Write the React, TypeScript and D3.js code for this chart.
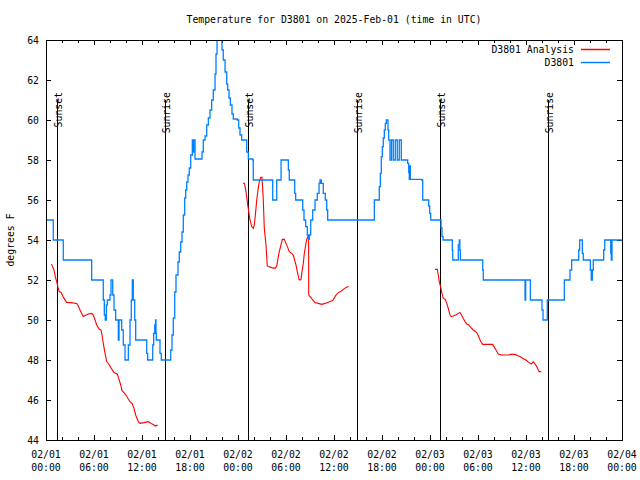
import React from "react";
import * as d3 from "d3";

const W = 640;
const H = 480;
const PLOT = { left: 46, right: 622, top: 40, bottom: 440 };

const titleText = "Temperature for D3801 on 2025-Feb-01 (time in UTC)";
const yAxisLabel = "degrees F";
const yTicks = [44, 46, 48, 50, 52, 54, 56, 58, 60, 62, 64];
const xTickHours = [0, 6, 12, 18, 24, 30, 36, 42, 48, 54, 60, 66, 72];
const xTickDates = ["02/01", "02/01", "02/01", "02/01", "02/02", "02/02", "02/02", "02/02", "02/03", "02/03", "02/03", "02/03", "02/04"];
const xTickTimes = ["00:00", "06:00", "12:00", "18:00", "00:00", "06:00", "12:00", "18:00", "00:00", "06:00", "12:00", "18:00", "00:00"];
const xMinorStep = 2;

const sunHours = [1.44, 14.92, 25.29, 38.91, 49.29, 62.79];
const sunLabels = ["Sunset", "Sunrise", "Sunset", "Sunrise", "Sunset", "Sunrise"];

const seriesNames = ["D3801 Analysis", "D3801"];
const seriesColors = ["#ff0000", "#0080ff"];

// Observations (D3801): step series, value holds until the next time
const obsHours = [
  0, 0.79, 0.91, 1.96, 2.16, 5.41, 5.71, 6.96, 7.16, 7.29, 7.41, 7.54, 7.66, 7.88, 8.0, 8.13, 8.25, 8.34, 8.5, 8.71,
  8.96, 9.04, 9.13, 9.38, 9.46, 9.66, 9.88, 10.16, 10.29, 10.5, 10.66, 10.79, 10.91, 11.09, 11.21, 12.46, 12.59, 12.71, 13.21, 13.34,
  13.46, 13.59, 13.69, 13.75, 13.79, 14.16, 14.25, 14.41, 15.41, 15.59, 15.75, 15.91, 16.09, 16.25, 16.5, 16.66, 16.84, 17.0, 17.16, 17.34,
  17.46, 17.59, 17.75, 17.91, 18.09, 18.29, 18.38, 18.46, 18.63, 19.38, 19.5, 19.66, 19.88, 20.09, 20.29, 20.5, 20.71, 20.91, 21.13, 21.25,
  21.38, 21.63, 21.88, 22.0, 22.16, 22.38, 22.59, 22.71, 22.88, 23.04, 23.25, 23.41, 23.91, 24.09, 24.25, 24.46, 24.88, 25.09, 25.29, 25.84,
  25.91, 28.21, 28.34, 28.75, 28.84, 29.19, 29.38, 30.16, 30.29, 30.41, 30.91, 31.09, 31.21, 31.96, 32.09, 32.25, 32.46, 32.66, 32.79, 32.91,
  33.09, 33.34, 33.63, 33.91, 34.13, 34.25, 34.41, 34.66, 34.91, 35.09, 35.21, 40.91, 41.04, 41.54, 41.66, 41.79, 41.91, 42.04, 42.16, 42.29,
  42.41, 42.54, 42.66, 42.75, 42.84, 43.0, 43.19, 43.41, 43.66, 43.91, 44.16, 44.41,
  45.09, 45.21, 45.34, 45.41, 45.48, 45.54, 46.96, 47.09, 47.71, 47.84, 47.96, 48.09, 49.25, 49.38, 49.5, 49.63, 50.66, 50.79,
  50.84, 51.38, 51.54, 51.66, 51.73, 51.79, 54.46, 54.59, 54.66, 59.79, 59.88, 59.96, 60.41, 60.54, 61.84, 62.0, 62.13, 62.54, 62.66, 64.66,
  64.79, 65.34, 65.5, 65.71, 66.46, 66.59, 66.71, 66.91, 67.04, 67.16, 67.91, 68.04, 68.16, 68.29, 68.41, 69.59, 69.71, 69.84, 70.46, 70.59,
  70.66, 70.75, 72,
];
const obsTemps = [
  55, 55, 54, 54, 53, 53, 52, 52, 51, 50.25, 50, 50.75, 51, 51, 51.25, 52, 52, 51.25, 50.5, 50,
  50, 49, 50, 50, 49.5, 48.75, 48, 48, 48.75, 50, 51, 52, 51, 50, 49, 49, 48.33, 48, 48, 48.75,
  49.33, 49.75, 50, 49.33, 49, 49, 48.33, 48, 48, 48.5, 49.25, 50.1, 51.4, 52.25, 52.9, 53.4, 53.9, 54.4, 55.25, 56.1,
  56.5, 56.9, 57.25, 57.6, 58.25, 59, 58.4, 59, 58.05, 58.05, 58.4, 59, 59.2, 59.75, 60.1, 60.5, 61, 61.5, 62.3, 63.3,
  64.3, 64.5, 64.2, 63.5, 63, 62.4, 61.8, 61.5, 61.1, 60.75, 60.3, 60.05, 60, 59.6, 59.25, 59, 59, 58.4, 58.05, 58,
  57, 57, 56, 56, 57, 57, 58, 58, 57.5, 57, 57, 56.33, 56, 56, 55.5, 55, 54.67, 54.25, 54.03, 54.25,
  55, 55.5, 56, 56.33, 56.83, 57, 56.83, 56.33, 56, 55.5, 55, 55, 56, 56, 56.67, 57.33, 58.17, 58.67, 59.1, 59.5,
  59.83, 60, 60, 59.5, 59, 58, 59, 58, 59, 58, 59, 58,
  58, 57.83, 57.37, 57.03, 57.7, 57.03, 57, 56, 56, 55.7, 55.33, 55, 55, 54.6, 54.17, 54, 54, 53.5,
  53, 53, 53.75, 54, 53.5, 53, 53, 52.5, 52, 52, 51, 52, 52, 51, 51, 50.5, 50, 50, 51, 51,
  52, 52, 52.5, 53, 53, 53.5, 54, 54, 53.33, 53, 53, 52.5, 52, 52.5, 53, 53, 53.5, 54, 54, 53.33,
  53, 54, 54,
];

// Analysis (D3801 Analysis), null marks a gap between runs
const anaHours = [
  0.63, 0.75, 1.0, 1.16, 1.34, 1.5, 1.66, 1.91, 2.09, 2.34, 2.59, 3.09, 3.84, 4.04, 4.25, 4.5, 4.66, 4.91, 5.29, 5.71,
  5.91, 6.13, 6.34, 6.63, 6.88, 7.0, 7.16, 7.38, 7.59, 7.84, 8.09, 8.5, 8.91, 9.09, 9.34, 9.5, 9.75, 10.0, 10.29, 10.5,
  10.75, 11.0, 11.21, 11.54, 11.75, 12.25, 12.79, 13.13, 13.41, 13.63, 13.84, 13.96,
  14.0,
  24.66, 24.81, 25.0, 25.16, 25.34, 25.5, 25.71, 25.91, 26.04, 26.21, 26.34, 26.5, 26.66, 26.84, 27.0, 27.09, 27.16, 27.29, 27.5, 27.66,
  27.79, 28.21, 28.63, 28.84, 29.0, 29.16, 29.34, 29.54, 29.79, 30.0, 30.21, 30.41, 30.71, 30.91, 31.13, 31.25, 31.41, 31.63, 31.75, 31.88,
  32.0, 32.16, 32.29, 32.46, 32.59, 32.75, 32.83, 32.84, 33.0, 33.29, 33.63, 34.04, 34.46, 34.88, 35.21, 35.5, 35.84, 36.0, 36.25, 36.54,
  36.84, 37.16, 37.5, 37.84,
  38.0,
  48.63, 48.91, 49.04, 49.16, 49.34, 49.5, 49.66, 49.91, 50.09, 50.29, 50.5, 50.66, 50.91, 51.21, 51.54, 51.75, 51.91, 52.16, 52.38, 52.59,
  52.84, 53.09, 53.41, 53.84, 54.09, 54.34, 54.59, 55.84, 56.0, 56.25, 56.54, 56.96, 57.79, 58.09, 58.63, 58.91, 59.25, 59.59, 60.0, 60.34,
  60.66, 60.91, 61.13, 61.34, 61.54, 61.66, 61.91,
];
const anaTemps: (number | null)[] = [
  52.78, 52.75, 52.5, 52.17, 51.92, 51.63, 51.42, 51.37, 51.2, 51.03, 50.88, 50.87, 50.83, 50.7, 50.5, 50.3, 50.17, 50.22, 50.3, 50.33,
  50.25, 50.0, 49.75, 49.55, 49.5, 49.25, 48.83, 48.33, 47.92, 47.8, 47.63, 47.37, 47.3, 47.08, 46.75, 46.47, 46.37, 46.25, 46.05, 45.92,
  45.83, 45.58, 45.25, 44.92, 44.83, 44.87, 44.92, 44.83, 44.78, 44.7, 44.73, 44.73,
  null,
  56.83, 56.83, 56.42, 55.92, 55.42, 55.0, 54.67, 54.58, 54.75, 55.42, 56.0, 56.5, 56.92, 57.13, 57.13, 56.5, 56.0, 54.58, 53.75, 52.7,
  52.67, 52.62, 52.58, 52.7, 53.08, 53.42, 53.7, 54.03, 54.03, 53.83, 53.63, 53.42, 53.33, 53.25, 52.92, 52.75, 52.42, 52.03, 52.0, 52.03,
  52.42, 52.83, 53.33, 53.75, 54.03, 54.17, 54.17, 51.25, 51.17, 51.03, 50.87, 50.83, 50.78, 50.83, 50.88, 50.92, 50.97, 51.08, 51.25, 51.37,
  51.42, 51.53, 51.62, 51.67,
  null,
  52.53, 52.53, 52.25, 51.92, 51.63, 51.33, 51.08, 51.03, 50.83, 50.58, 50.25, 50.17, 50.2, 50.25, 50.33, 50.38, 50.28, 50.08, 49.92, 49.8,
  49.75, 49.63, 49.5, 49.37, 49.17, 48.92, 48.78, 48.78, 48.67, 48.5, 48.3, 48.25, 48.25, 48.28, 48.28, 48.23, 48.17, 48.08, 48.0, 47.88,
  47.8, 47.92, 47.8, 47.67, 47.5, 47.42, 47.42,
];

const FONT = "'DejaVu Sans Mono', 'Liberation Mono', monospace";
const FS = 9.8;

type Pt = { h: number; t: number | null };

export default function App() {
  const x = d3.scaleLinear().domain([0, 72]).range([PLOT.left, PLOT.right]);
  const y = d3.scaleLinear().domain([44, 64]).range([PLOT.bottom, PLOT.top]);

  const obsData: Pt[] = obsHours.map((h, i) => ({ h, t: obsTemps[i] }));
  const anaData: Pt[] = anaHours.map((h, i) => ({ h, t: anaTemps[i] }));

  const anaLine = d3
    .line<Pt>()
    .defined((d) => d.t != null)
    .x((d) => x(d.h))
    .y((d) => y(d.t as number));

  const obsLine = d3
    .line<Pt>()
    .curve(d3.curveStepAfter)
    .x((d) => x(d.h))
    .y((d) => y(d.t as number));

  const minorHours = d3.range(0, 72 + 0.001, xMinorStep).filter((h) => h % 6 !== 0);
  const majorLen = 5;
  const minorLen = 3;

  return (
    <svg width={W} height={H} style={{ display: "block", position: "absolute", left: 0, top: 0, background: "#fff" }} fontFamily={FONT} fontSize={FS}>
      <defs>
        <clipPath id="plotclip">
          <rect x={PLOT.left} y={PLOT.top} width={PLOT.right - PLOT.left} height={PLOT.bottom - PLOT.top} />
        </clipPath>
      </defs>
      <rect x={0} y={0} width={W} height={H} fill="#fff" />

      <text x={(PLOT.left + PLOT.right) / 2} y={23} textAnchor="middle">{titleText}</text>
      <text transform={`translate(14,${(PLOT.top + PLOT.bottom) / 2}) rotate(-90)`} textAnchor="middle">{yAxisLabel}</text>

      {yTicks.map((t) => (
        <g key={"y" + t}>
          <line x1={PLOT.left} x2={PLOT.left + majorLen} y1={y(t)} y2={y(t)} stroke="#000" shapeRendering="crispEdges" />
          <line x1={PLOT.right} x2={PLOT.right - majorLen} y1={y(t)} y2={y(t)} stroke="#000" shapeRendering="crispEdges" />
          <text x={PLOT.left - 7} y={y(t) + 3.5} textAnchor="end">{t}</text>
        </g>
      ))}

      {xTickHours.map((h, i) => (
        <g key={"x" + h}>
          <line x1={x(h)} x2={x(h)} y1={PLOT.bottom} y2={PLOT.bottom - majorLen} stroke="#000" shapeRendering="crispEdges" />
          <line x1={x(h)} x2={x(h)} y1={PLOT.top} y2={PLOT.top + majorLen} stroke="#000" shapeRendering="crispEdges" />
          <text x={x(h)} y={458} textAnchor="middle">{xTickDates[i]}</text>
          <text x={x(h)} y={471} textAnchor="middle">{xTickTimes[i]}</text>
        </g>
      ))}
      {minorHours.map((h) => (
        <g key={"m" + h}>
          <line x1={x(h)} x2={x(h)} y1={PLOT.bottom} y2={PLOT.bottom - minorLen} stroke="#000" shapeRendering="crispEdges" />
          <line x1={x(h)} x2={x(h)} y1={PLOT.top} y2={PLOT.top + minorLen} stroke="#000" shapeRendering="crispEdges" />
        </g>
      ))}

      {sunHours.map((h, i) => (
        <g key={"s" + i}>
          <line x1={x(h)} x2={x(h)} y1={100} y2={PLOT.bottom} stroke="#000" strokeWidth={1} shapeRendering="crispEdges" />
          <text transform={`translate(${x(h) + 4.5},92) rotate(-90)`} textAnchor="end">{sunLabels[i]}</text>
        </g>
      ))}

      <g clipPath="url(#plotclip)">
        <path d={anaLine(anaData) || ""} fill="none" stroke={seriesColors[0]} strokeWidth={1.1} />
        <path d={obsLine(obsData) || ""} fill="none" stroke={seriesColors[1]} strokeWidth={1.3} />
      </g>

      {seriesNames.map((name, i) => (
        <g key={"l" + i}>
          <text x={574} y={49 + i * 13 + 3.5} textAnchor="end">{name}</text>
          <line x1={581} x2={610} y1={49.5 + i * 13} y2={49.5 + i * 13} stroke={seriesColors[i]} strokeWidth={1.5} />
        </g>
      ))}

      <rect x={PLOT.left} y={PLOT.top} width={PLOT.right - PLOT.left} height={PLOT.bottom - PLOT.top} fill="none" stroke="#000" shapeRendering="crispEdges" />
    </svg>
  );
}
